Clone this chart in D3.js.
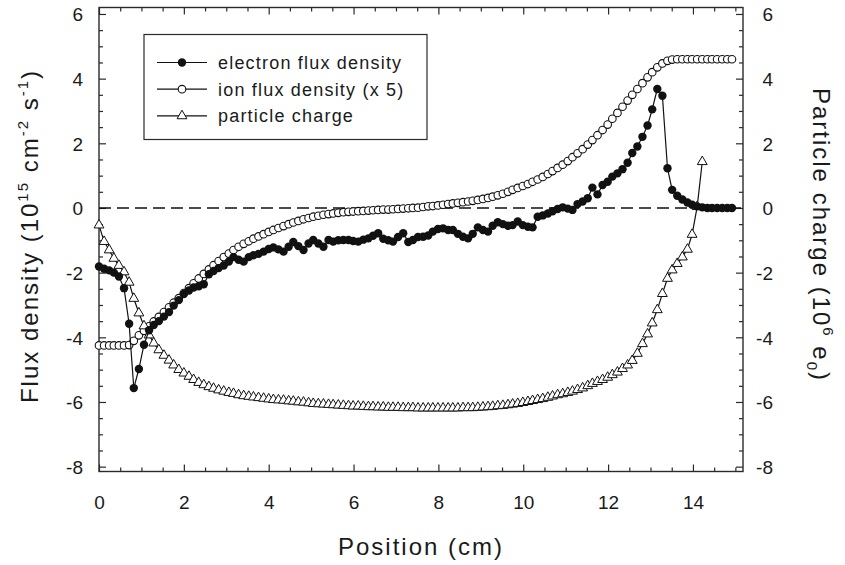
<!DOCTYPE html>
<html>
<head>
<meta charset="utf-8">
<script src="https://cdn.jsdelivr.net/npm/d3@7"></script>
<style>
  body { margin: 0; background: #fff; }
  svg text { font-family: "Liberation Sans", Arial, sans-serif; fill: #1a1a1a; }
</style>
</head>
<body>
<div id="chartArea"></div>
<script>
// Data.

// Position (cm) of each grid point
const positions = [
    0, 0.12, 0.24, 0.35, 0.47, 0.59, 0.71, 0.82, 0.94, 1.06,
    1.18, 1.29, 1.41, 1.53, 1.65, 1.76, 1.88, 2.00, 2.12, 2.23,
    2.35, 2.47, 2.59, 2.70, 2.82, 2.94, 3.06, 3.17, 3.29, 3.41,
    3.53, 3.64, 3.76, 3.88, 4.00, 4.11, 4.23, 4.35, 4.47, 4.58,
    4.70, 4.82, 4.94, 5.05, 5.17, 5.29, 5.41, 5.52, 5.64, 5.76,
    5.88, 5.99, 6.11, 6.23, 6.35, 6.46, 6.58, 6.70, 6.82, 6.93,
    7.05, 7.17, 7.29, 7.40, 7.52, 7.64, 7.76, 7.87, 7.99, 8.11,
    8.23, 8.34, 8.46, 8.58, 8.70, 8.81, 8.93, 9.05, 9.17, 9.28,
    9.40, 9.52, 9.64, 9.75, 9.87, 9.99, 10.11, 10.22, 10.34, 10.46,
    10.58, 10.69, 10.81, 10.93, 11.05, 11.16, 11.28, 11.40, 11.52, 11.63,
    11.75, 11.87, 11.99, 12.10, 12.22, 12.34, 12.46, 12.57, 12.69, 12.81,
    12.93, 13.04, 13.16, 13.28, 13.40, 13.51, 13.63, 13.75, 13.87, 13.98,
    14.10, 14.22, 14.34, 14.45, 14.57, 14.69, 14.81, 14.92
];

// electron flux density (10^15 cm^-2 s^-1)
const electronFlux = [
    -1.81, -1.88, -1.93, -2.00, -2.12, -2.48, -3.58, -5.57, -4.98, -4.23,
    -3.78, -3.62, -3.50, -3.36, -3.22, -3.02, -2.85, -2.66, -2.55, -2.46,
    -2.42, -2.36, -2.05, -1.95, -1.86, -1.78, -1.66, -1.52, -1.60, -1.66,
    -1.52, -1.46, -1.42, -1.35, -1.27, -1.22, -1.28, -1.35, -1.20, -1.05,
    -1.18, -1.30, -1.10, -0.99, -1.10, -1.20, -0.99, -1.04, -1.00, -0.99,
    -0.99, -1.02, -1.04, -0.98, -0.94, -0.86, -0.78, -0.95, -1.00, -1.04,
    -0.90, -0.78, -1.05, -0.99, -0.90, -0.89, -0.85, -0.73, -0.65, -0.63,
    -0.68, -0.68, -0.80, -0.89, -0.94, -0.80, -0.60, -0.68, -0.73, -0.55,
    -0.44, -0.50, -0.55, -0.53, -0.42, -0.53, -0.58, -0.60, -0.27, -0.23,
    -0.17, -0.10, -0.03, 0.02, -0.02, -0.06, 0.12, 0.20, 0.30, 0.63,
    0.42, 0.71, 0.81, 0.97, 1.07, 1.20, 1.40, 1.70, 1.90, 2.20,
    2.55, 3.05, 3.68, 3.47, 1.23, 0.56, 0.38, 0.26, 0.17, 0.10,
    0.05, 0.02, 0, 0, 0, 0, 0, 0
];

// ion flux density (x 5)
const ionFlux = [
    -4.25, -4.25, -4.25, -4.25, -4.25, -4.25, -4.24, -4.11, -3.94, -3.80,
    -3.66, -3.51, -3.37, -3.22, -3.07, -2.93, -2.79, -2.63, -2.48, -2.33,
    -2.18, -2.04, -1.90, -1.77, -1.64, -1.52, -1.41, -1.30, -1.20, -1.11,
    -1.03, -0.95, -0.88, -0.81, -0.74, -0.68, -0.62, -0.56, -0.50, -0.45,
    -0.40, -0.35, -0.31, -0.27, -0.24, -0.21, -0.19, -0.17, -0.15, -0.13,
    -0.12, -0.11, -0.10, -0.09, -0.08, -0.07, -0.06, -0.05, -0.05, -0.04,
    -0.03, -0.02, -0.01, 0.00, 0.01, 0.03, 0.05, 0.06, 0.08, 0.10,
    0.12, 0.14, 0.16, 0.18, 0.20, 0.22, 0.25, 0.28, 0.31, 0.35,
    0.39, 0.44, 0.50, 0.56, 0.62, 0.68, 0.74, 0.81, 0.88, 0.96,
    1.05, 1.14, 1.24, 1.34, 1.45, 1.57, 1.69, 1.82, 1.96, 2.10,
    2.25, 2.41, 2.58, 2.76, 2.94, 3.13, 3.32, 3.50, 3.68, 3.86,
    4.04, 4.20, 4.35, 4.47, 4.55, 4.59, 4.60, 4.60, 4.60, 4.60,
    4.60, 4.60, 4.60, 4.60, 4.60, 4.60, 4.60, 4.60
];

// particle charge (10^6 e0), first 122 grid points
const particleCharge = [
    -0.53, -1.04, -1.30, -1.56, -1.78, -1.98, -2.30, -2.80, -3.25, -3.65,
    -3.93, -4.18, -4.39, -4.56, -4.71, -4.86, -5.00, -5.11, -5.21, -5.31,
    -5.40, -5.47, -5.53, -5.58, -5.63, -5.67, -5.71, -5.74, -5.78, -5.81,
    -5.83, -5.85, -5.87, -5.89, -5.91, -5.93, -5.94, -5.95, -5.97, -5.98,
    -6.00, -6.01, -6.03, -6.05, -6.06, -6.07, -6.08, -6.09, -6.10, -6.11,
    -6.12, -6.13, -6.13, -6.14, -6.15, -6.15, -6.16, -6.16, -6.17, -6.17,
    -6.17, -6.18, -6.18, -6.18, -6.19, -6.19, -6.19, -6.19, -6.19, -6.19,
    -6.19, -6.19, -6.19, -6.18, -6.18, -6.18, -6.17, -6.16, -6.15, -6.14,
    -6.12, -6.11, -6.09, -6.07, -6.05, -6.02, -5.99, -5.96, -5.93, -5.90,
    -5.86, -5.82, -5.78, -5.75, -5.71, -5.67, -5.62, -5.57, -5.50, -5.43,
    -5.37, -5.31, -5.24, -5.16, -5.08, -4.97, -4.86, -4.72, -4.50, -4.20,
    -3.90, -3.56, -3.15, -2.65, -2.18, -1.92, -1.72, -1.52, -1.28, -0.82,
    0.04, 1.43
];

// Tick labels
const xTicks = [0, 2, 4, 6, 8, 10, 12, 14];
const yTicks = [-8, -6, -4, -2, 0, 2, 4, 6];

const legendLabels = ['electron flux density', 'ion flux density (x 5)', 'particle charge'];

// Set up chart dimensions
const width = 845;
const height = 565;
const plot = {left: 99, right: 743, top: 7.5, bottom: 471.5};

const svg = d3.select('#chartArea')
    .append('svg')
    .attr('width', width)
    .attr('height', height);

// Set up scales (both y axes share the same range)
const xScale = d3.scaleLinear()
    .domain([0, 15.18])
    .range([plot.left, plot.right]);
const yScale = d3.scaleLinear()
    .domain([-8.15, 6.2])
    .range([plot.bottom, plot.top]);

const xMinor = d3.range(1, 31).map(d => d * 0.5).filter(d => d % 2 !== 0);
const yMinor = d3.range(-16, 13).map(d => d * 0.5).filter(d => d % 2 !== 0);

const axisColor = '#2a2a2a';
const plainLabel = d => String(d); // keep the plain hyphen for negatives

function styleAxis(g) {
    g.select('.domain').remove();
    g.selectAll('line').attr('stroke', axisColor).attr('stroke-width', 1.2);
    g.selectAll('text').attr('font-size', 19).attr('fill', '#1a1a1a');
}

// Add x-axis (bottom, with labels)
svg.append('g')
    .attr('transform', `translate(0,${plot.bottom})`)
    .call(d3.axisBottom(xScale).tickValues(xTicks).tickSize(-7).tickPadding(24).tickFormat(plainLabel))
    .call(styleAxis);
svg.append('g')
    .attr('transform', `translate(0,${plot.bottom})`)
    .call(d3.axisBottom(xScale).tickValues(xMinor).tickSize(-4).tickFormat(''))
    .call(styleAxis);

// top axis, ticks only
svg.append('g')
    .attr('transform', `translate(0,${plot.top})`)
    .call(d3.axisTop(xScale).tickValues(xTicks).tickSize(-7).tickFormat(''))
    .call(styleAxis);
svg.append('g')
    .attr('transform', `translate(0,${plot.top})`)
    .call(d3.axisTop(xScale).tickValues(xMinor).tickSize(-4).tickFormat(''))
    .call(styleAxis);

// Add y-axis (left)
svg.append('g')
    .attr('transform', `translate(${plot.left},0)`)
    .call(d3.axisLeft(yScale).tickValues(yTicks).tickSize(-7).tickPadding(16).tickFormat(plainLabel))
    .call(styleAxis)
    .selectAll('text').attr('dy', '0.36em');
svg.append('g')
    .attr('transform', `translate(${plot.left},0)`)
    .call(d3.axisLeft(yScale).tickValues(yMinor).tickSize(-4).tickFormat(''))
    .call(styleAxis);

// right axis (particle charge)
svg.append('g')
    .attr('transform', `translate(${plot.right},0)`)
    .call(d3.axisRight(yScale).tickValues(yTicks).tickSize(-7).tickFormat(plainLabel))
    .call(styleAxis)
    .selectAll('text')
    .attr('text-anchor', 'end')
    .attr('x', 30)
    .attr('dy', '0.36em');
svg.append('g')
    .attr('transform', `translate(${plot.right},0)`)
    .call(d3.axisRight(yScale).tickValues(yMinor).tickSize(-4).tickFormat(''))
    .call(styleAxis);

// frame
svg.append('rect')
    .attr('x', plot.left)
    .attr('y', plot.top)
    .attr('width', plot.right - plot.left)
    .attr('height', plot.bottom - plot.top)
    .attr('fill', 'none')
    .attr('stroke', axisColor)
    .attr('stroke-width', 1.4);

// zero line
svg.append('line')
    .attr('x1', plot.left)
    .attr('x2', plot.right)
    .attr('y1', yScale(0))
    .attr('y2', yScale(0))
    .attr('stroke', '#111')
    .attr('stroke-width', 1.6)
    .attr('stroke-dasharray', '12,6');

// Series
const ionData = positions.map((x, i) => ({x: x, y: ionFlux[i]}));
const electronData = positions.map((x, i) => ({x: x, y: electronFlux[i]}));
const chargeData = particleCharge.map((y, i) => ({x: positions[i], y: y}));

const line = d3.line()
    .x(d => xScale(d.x))
    .y(d => yScale(d.y));

const triangle = d3.symbol().type(d3.symbolTriangle).size(42);

function drawLine(data) {
    svg.append('path')
        .datum(data)
        .attr('fill', 'none')
        .attr('stroke', '#111')
        .attr('stroke-width', 1.2)
        .attr('d', line);
}

// ion flux (open circles)
drawLine(ionData);
svg.append('g').selectAll('circle')
    .data(ionData)
    .enter()
    .append('circle')
    .attr('cx', d => xScale(d.x))
    .attr('cy', d => yScale(d.y))
    .attr('r', 3.8)
    .attr('fill', '#fff')
    .attr('stroke', '#111')
    .attr('stroke-width', 1.1);

// particle charge (open triangles)
drawLine(chargeData);
svg.append('g').selectAll('path')
    .data(chargeData)
    .enter()
    .append('path')
    .attr('transform', d => `translate(${xScale(d.x)},${yScale(d.y)})`)
    .attr('d', triangle)
    .attr('fill', '#fff')
    .attr('stroke', '#111')
    .attr('stroke-width', 1);

// electron flux (filled circles)
drawLine(electronData);
svg.append('g').selectAll('circle')
    .data(electronData)
    .enter()
    .append('circle')
    .attr('cx', d => xScale(d.x))
    .attr('cy', d => yScale(d.y))
    .attr('r', 4.2)
    .attr('fill', '#111');

// Legend
const legend = svg.append('g');
legend.append('rect')
    .attr('x', 144)
    .attr('y', 34.5)
    .attr('width', 283)
    .attr('height', 105)
    .attr('fill', '#fff')
    .attr('stroke', axisColor)
    .attr('stroke-width', 1.2);

legendLabels.forEach((label, i) => {
    const y = 62.5 + i * 26.7;
    legend.append('line')
        .attr('x1', 157).attr('x2', 207)
        .attr('y1', y).attr('y2', y)
        .attr('stroke', '#111')
        .attr('stroke-width', 1.2);
    if (i === 0) {
        legend.append('circle').attr('cx', 182).attr('cy', y).attr('r', 4.2).attr('fill', '#111');
    } else if (i === 1) {
        legend.append('circle').attr('cx', 182).attr('cy', y).attr('r', 3.8)
            .attr('fill', '#fff').attr('stroke', '#111').attr('stroke-width', 1.1);
    } else {
        legend.append('path').attr('transform', `translate(182,${y})`).attr('d', triangle)
            .attr('fill', '#fff').attr('stroke', '#111').attr('stroke-width', 1);
    }
    legend.append('text')
        .attr('x', 218)
        .attr('y', y)
        .attr('dy', '0.35em')
        .attr('font-size', 18)
        .attr('letter-spacing', 1.2)
        .text(label);
});

// Axis titles
svg.append('text')
    .attr('x', 421)
    .attr('y', 555)
    .attr('text-anchor', 'middle')
    .attr('font-size', 24)
    .attr('letter-spacing', 2)
    .text('Position (cm)');

const leftTitle = svg.append('text')
    .attr('transform', 'translate(38,236) rotate(-90)')
    .attr('text-anchor', 'middle')
    .attr('font-size', 24)
    .attr('letter-spacing', 2);
leftTitle.append('tspan').text('Flux density (10');
leftTitle.append('tspan').attr('dy', -10).attr('font-size', 15).text('15');
leftTitle.append('tspan').attr('dy', 10).text(' cm');
leftTitle.append('tspan').attr('dy', -10).attr('font-size', 15).text('-2');
leftTitle.append('tspan').attr('dy', 10).text(' s');
leftTitle.append('tspan').attr('dy', -10).attr('font-size', 15).text('-1');
leftTitle.append('tspan').attr('dy', 10).text(')');

const rightTitle = svg.append('text')
    .attr('transform', 'translate(813,235) rotate(90)')
    .attr('text-anchor', 'middle')
    .attr('font-size', 24)
    .attr('letter-spacing', 2);
rightTitle.append('tspan').text('Particle charge (10');
rightTitle.append('tspan').attr('dy', -10).attr('font-size', 15).text('6');
rightTitle.append('tspan').attr('dy', 10).text(' e');
rightTitle.append('tspan').attr('dy', 6).attr('font-size', 15).text('0');
rightTitle.append('tspan').attr('dy', -6).text(')');
</script>
</body>
</html>
